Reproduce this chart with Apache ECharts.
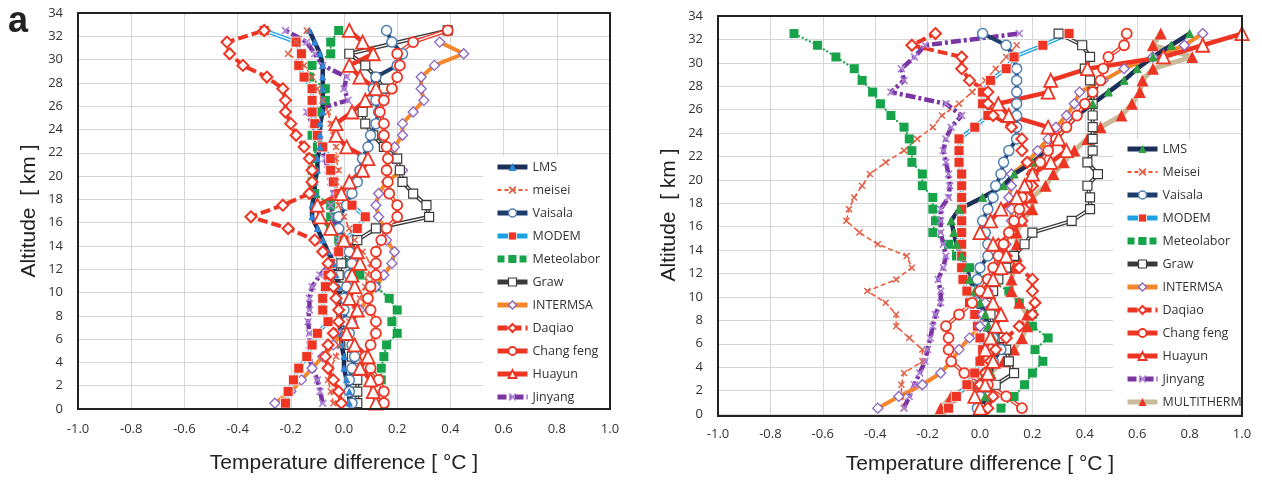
<!DOCTYPE html>
<html><head><meta charset="utf-8">
<script src="https://cdn.jsdelivr.net/npm/echarts@6/dist/echarts.min.js"></script>
<style>html,body{margin:0;padding:0;background:#fff}#c{width:1262px;height:480px}</style>
</head><body><div id="c"></div>
<script>
const altitudes = [0.5,1.5,2.5,3.5,4.5,5.5,6.5,7.5,8.5,9.5,10.5,11.5,12.5,13.5,14.5,15.5,16.5,17.5,18.5,19.5,20.5,21.5,22.5,23.5,24.5,25.5,26.5,27.5,28.5,29.5,30.5,31.5,32.5];
const xTicks = [-1.0,-0.8,-0.6,-0.4,-0.2,0.0,0.2,0.4,0.6,0.8,1.0];
const yTicks = [0,2,4,6,8,10,12,14,16,18,20,22,24,26,28,30,32,34];

// Left panel (a)
const L_LMS = [0.02,0.02,0.01,0.0,0.0,-0.01,-0.01,-0.02,-0.02,-0.02,-0.02,-0.03,-0.04,-0.06,-0.08,-0.10,-0.12,-0.12,-0.11,-0.11,-0.10,-0.10,-0.09,-0.09,-0.09,-0.08,-0.08,-0.08,-0.08,-0.08,-0.09,-0.11,-0.13];
const L_meisei = [-0.04,-0.05,-0.06,-0.05,-0.03,-0.02,0.0,0.02,0.04,0.06,0.08,0.09,0.10,0.07,0.04,0.02,0.0,-0.02,-0.03,-0.03,-0.02,-0.03,-0.03,-0.04,-0.05,-0.06,-0.08,-0.10,-0.12,-0.15,-0.21,-0.18,-0.14];
const L_Vaisala = [0.03,0.02,0.02,0.03,0.04,0.03,0.02,0.01,0.0,0.0,0.01,0.02,0.03,0.02,0.0,-0.02,-0.02,0.01,0.03,0.05,0.06,0.07,0.09,0.10,0.12,0.13,0.12,0.11,0.12,0.20,0.22,0.18,0.16];
const L_MODEM = [-0.22,-0.21,-0.19,-0.17,-0.14,-0.12,-0.10,-0.06,-0.08,-0.08,-0.07,-0.06,-0.05,-0.02,0.0,0.05,0.08,0.03,-0.02,-0.04,-0.05,-0.05,-0.08,-0.10,-0.11,-0.12,-0.12,-0.12,-0.15,-0.17,-0.16,-0.18,-0.30];
const L_Meteolabor = [0.15,0.15,0.14,0.14,0.15,0.16,0.20,0.18,0.20,0.17,0.12,0.06,0.02,0.0,-0.02,-0.05,-0.05,-0.05,-0.11,-0.12,-0.12,-0.12,-0.10,-0.12,-0.11,-0.10,-0.07,-0.07,-0.13,-0.12,-0.05,-0.05,-0.02];
const L_Graw = [0.05,0.05,0.05,0.04,0.03,0.02,0.01,0.0,-0.01,-0.01,-0.02,-0.02,-0.01,0.01,0.05,0.12,0.32,0.31,0.26,0.22,0.21,0.20,0.15,0.11,0.08,0.07,0.10,0.15,0.12,0.08,0.02,null,0.39];
const L_INTERMSA = [-0.26,-0.20,-0.16,-0.12,-0.08,-0.04,-0.01,0.03,0.06,0.09,0.12,0.15,0.18,0.19,0.16,0.15,0.13,0.12,0.13,0.16,0.22,0.19,0.19,0.22,0.22,0.26,0.30,0.29,0.29,0.34,0.45,0.36,null];
const L_Daqiao = [-0.01,-0.02,-0.04,-0.06,-0.07,-0.06,-0.04,-0.02,-0.02,-0.03,-0.04,-0.05,-0.06,-0.08,-0.11,-0.21,-0.35,-0.23,-0.13,-0.12,-0.12,-0.13,-0.15,-0.18,-0.20,-0.22,-0.22,-0.23,-0.29,-0.38,-0.43,-0.44,-0.30];
const L_Changfeng = [0.15,0.15,0.13,0.10,0.08,0.10,0.12,0.12,0.10,0.09,0.10,0.12,0.12,0.12,0.14,0.16,0.20,0.20,0.17,0.165,0.16,0.165,0.16,0.15,0.15,0.135,0.15,0.18,0.20,0.21,0.20,0.26,0.39];
const L_Huayun = [0.12,0.11,0.10,0.06,0.09,0.04,0.01,0.03,0.05,0.02,0.04,0.03,0.06,0.05,0.0,-0.05,-0.09,-0.10,-0.01,0.02,0.07,0.09,0.01,-0.03,-0.03,0.03,0.08,0.12,0.06,0.02,0.11,0.07,0.02];
const L_Jinyang = [-0.08,-0.09,-0.10,-0.12,-0.13,-0.13,-0.13,-0.135,-0.13,-0.13,-0.12,-0.09,-0.05,-0.03,-0.02,-0.03,-0.04,-0.05,-0.04,-0.05,-0.06,-0.07,-0.09,-0.10,-0.12,-0.14,0.015,0.0,0.01,-0.08,-0.11,-0.14,-0.22];

// Right panel
const R_LMS = [0.0,0.02,0.03,0.04,0.05,0.06,0.05,0.03,0.02,0.0,-0.02,-0.04,-0.05,-0.07,-0.09,-0.10,-0.11,-0.08,0.01,0.09,0.13,0.20,0.26,0.29,0.33,0.37,0.43,0.49,0.55,0.60,0.66,0.73,0.80];
const R_Meisei = [-0.29,-0.30,-0.30,-0.29,-0.22,-0.22,-0.27,-0.32,-0.32,-0.36,-0.43,-0.32,-0.26,-0.28,-0.39,-0.46,-0.51,-0.50,-0.48,-0.45,-0.42,-0.36,-0.29,-0.24,-0.18,-0.145,-0.08,-0.03,0.02,0.06,0.10,0.14,null];
const R_Vaisala = [-0.01,0.0,0.0,0.02,0.05,0.08,0.05,0.02,0.0,-0.01,-0.02,-0.01,0.0,0.03,0.03,0.02,0.01,0.03,0.05,0.06,0.08,0.09,0.11,0.14,0.14,0.14,0.14,0.14,0.14,0.14,0.13,0.10,0.01];
const R_MODEM = [-0.12,-0.09,-0.05,-0.02,0.0,0.01,0.0,-0.01,-0.02,-0.04,-0.05,-0.065,-0.07,-0.07,-0.07,-0.07,-0.07,-0.07,-0.07,-0.07,-0.07,-0.08,-0.08,-0.08,-0.02,0.03,0.01,0.01,0.04,0.10,0.13,0.24,0.34];
const R_Meteolabor = [0.08,0.13,0.17,0.20,0.24,0.21,0.26,0.20,0.20,0.15,0.11,0.03,-0.04,-0.09,-0.12,-0.18,-0.17,-0.18,-0.18,-0.22,-0.22,-0.26,-0.26,-0.27,-0.29,-0.34,-0.38,-0.41,-0.45,-0.48,-0.55,-0.62,-0.71];
const R_Graw = [0.0,0.03,0.06,0.13,0.11,0.10,0.09,0.05,0.04,0.04,0.05,0.07,0.10,0.13,0.17,0.20,0.35,0.42,0.42,0.41,0.45,0.41,0.43,0.43,0.43,0.43,0.43,0.43,0.42,0.40,0.42,0.39,0.30];
const R_INTERMSA = [-0.39,-0.31,-0.22,-0.15,-0.11,-0.08,-0.04,0.0,0.01,0.02,0.03,0.04,0.06,0.08,0.10,0.11,0.12,0.12,0.11,0.12,0.12,0.18,0.22,0.26,0.29,0.33,0.36,0.38,0.47,0.55,0.66,0.78,0.85];
const R_Daqiao = [0.03,0.05,0.0,0.02,0.04,0.06,0.10,0.15,0.20,0.21,0.20,0.20,0.15,0.10,0.07,0.12,0.16,0.17,0.18,0.20,0.20,0.18,0.16,0.16,0.12,0.05,0.03,0.03,-0.04,-0.07,-0.07,-0.26,-0.17];
const R_Changfeng = [0.16,0.10,0.03,-0.06,-0.11,-0.12,-0.12,-0.13,-0.08,-0.03,0.0,0.03,0.05,0.07,0.09,0.11,0.13,0.15,0.16,0.18,0.20,0.23,0.26,0.29,0.33,0.37,0.40,0.43,0.46,0.47,0.49,0.55,0.56];
const R_Huayun = [0.0,-0.02,0.02,0.03,0.05,0.02,0.04,0.06,0.08,0.05,0.03,0.05,0.08,0.10,0.05,0.0,0.04,0.08,0.14,0.17,0.20,0.27,0.33,0.30,0.26,0.11,0.07,0.26,0.27,0.41,0.70,0.85,1.0];
const R_Jinyang = [-0.29,-0.27,-0.25,-0.23,-0.21,-0.20,-0.19,-0.18,-0.17,-0.15,-0.15,-0.16,-0.14,-0.13,-0.14,-0.15,-0.15,-0.15,-0.12,-0.115,-0.12,-0.13,-0.14,-0.13,-0.11,-0.07,-0.13,-0.34,-0.29,-0.30,-0.25,-0.21,0.15];
const R_MULTITHERM = [-0.15,-0.11,-0.03,0.04,0.09,0.13,0.16,0.18,0.18,0.15,0.12,0.12,0.13,0.14,0.14,0.14,0.16,0.20,0.20,0.25,0.28,0.32,0.36,0.41,0.46,0.54,0.58,0.61,0.62,0.66,0.81,0.66,0.69];

const leftNames = ['LMS','meisei','Vaisala','MODEM','Meteolabor','Graw','INTERMSA','Daqiao','Chang feng','Huayun','Jinyang'];
const rightNames = ['LMS','Meisei','Vaisala','MODEM','Meteolabor','Graw','INTERMSA','Daqiao','Chang feng','Huayun','Jinyang','MULTITHERM'];

const RED = '#ee3524', NAVY = '#1c2f5a', LBLUE = '#1ba1e2', GREEN = '#16a34a', ORANGE = '#f5862a', PURPLE = '#7a35a3', LPURP = '#ad82d6', TAN = '#c9bb9a', GREY = '#3a3a3a';
const XSYM = 'path://M0,1.5L1.5,0L5,3.5L8.5,0L10,1.5L6.5,5L10,8.5L8.5,10L5,6.5L1.5,10L0,8.5L3.5,5Z';

function pts(xs){ const out=[]; xs.forEach((x,i)=>{ if(x!==null) out.push([x, altitudes[i]]); }); return out; }
function S(name, xs, g, o){ return Object.assign({type:'line', name:name, xAxisIndex:g, yAxisIndex:g, data:pts(xs), animation:false, clip:true, z:2}, o); }
function inner(name, xs, g){ return S(name+'#in', xs, g, {symbol:'none', silent:true, lineStyle:{color:'#fff', width:1.3}}); }

function styles(g){
  return {
    'LMS': {symbol:'triangle', symbolSize: g?8:6, itemStyle:{color: g? '#2ea043':'#2e86d6', borderColor: g?'#2ea043':'#2e86d6'}, lineStyle:{color:NAVY, width:4.5}},
    'meisei': {symbol:XSYM, symbolSize:7, itemStyle:{color:'#e0604a'}, lineStyle:{color:'#f2552f', width:1.5, type:[5,3]}},
    'Vaisala': {symbol:'circle', symbolSize:10, itemStyle:{color:'#fff', borderColor:'#4f7fb3', borderWidth:1.5}, lineStyle:{color:'#1f3d6b', width:4}},
    'MODEM': {symbol:'rect', symbolSize:10, itemStyle:{color:RED, borderColor:'#fff', borderWidth:0.8}, lineStyle:{color:LBLUE, width:4}},
    'Meteolabor': {symbol:'rect', symbolSize:9, itemStyle:{color:GREEN}, lineStyle:{color:GREEN, width:2, type:'dotted'}},
    'Graw': {symbol:'rect', symbolSize:9, itemStyle:{color:'#fff', borderColor:GREY, borderWidth:1.2}, lineStyle:{color:GREY, width:4}},
    'INTERMSA': {symbol:'diamond', symbolSize:10, itemStyle:{color:'#fff', borderColor:'#8a64c4', borderWidth:1.3}, lineStyle:{color:ORANGE, width:4}},
    'Daqiao': {symbol:'diamond', symbolSize:11, itemStyle:{color:'#fff', borderColor:RED, borderWidth:2}, lineStyle:{color:RED, width:4, type:[10,4]}},
    'Chang feng': {symbol:'circle', symbolSize:10, itemStyle:{color:'#fff', borderColor:RED, borderWidth:1.8}, lineStyle:{color:RED, width:4}},
    'Huayun': {symbol:'triangle', symbolSize:13, itemStyle:{color:'#fff', borderColor:RED, borderWidth:1.8}, lineStyle:{color:RED, width:4.5}},
    'Jinyang': {symbol:XSYM, symbolSize:8, itemStyle:{color:LPURP}, lineStyle:{color:PURPLE, width:4.5, type:[10,3,3,3]}},
    'MULTITHERM': {symbol:'triangle', symbolSize:12, itemStyle:{color:RED}, lineStyle:{color:TAN, width:5}}
  };
}
const sL = styles(0), sR = styles(1);

const series = [
  S('Meteolabor', L_Meteolabor, 0, sL['Meteolabor']),
  S('Jinyang', L_Jinyang, 0, sL['Jinyang']),
  S('INTERMSA', L_INTERMSA, 0, sL['INTERMSA']),
  S('Graw', L_Graw, 0, sL['Graw']), inner('Graw', L_Graw, 0),
  S('Vaisala', L_Vaisala, 0, sL['Vaisala']),
  S('MODEM', L_MODEM, 0, sL['MODEM']), inner('MODEM', L_MODEM, 0),
  S('LMS', L_LMS, 0, sL['LMS']),
  S('meisei', L_meisei, 0, sL['meisei']),
  S('Daqiao', L_Daqiao, 0, sL['Daqiao']),
  S('Chang feng', L_Changfeng, 0, sL['Chang feng']), inner('Chang feng', L_Changfeng, 0),
  S('Huayun', L_Huayun, 0, sL['Huayun']),

  S('R:Meteolabor', R_Meteolabor, 1, sR['Meteolabor']),
  S('R:Meisei', R_Meisei, 1, sR['meisei']),
  S('R:Jinyang', R_Jinyang, 1, sR['Jinyang']),
  S('R:MULTITHERM', R_MULTITHERM, 1, sR['MULTITHERM']),
  S('R:Graw', R_Graw, 1, sR['Graw']), inner('R:Graw', R_Graw, 1),
  S('R:Vaisala', R_Vaisala, 1, sR['Vaisala']),
  S('R:MODEM', R_MODEM, 1, sR['MODEM']), inner('R:MODEM', R_MODEM, 1),
  S('R:INTERMSA', R_INTERMSA, 1, sR['INTERMSA']),
  S('R:LMS', R_LMS, 1, sR['LMS']),
  S('R:Daqiao', R_Daqiao, 1, sR['Daqiao']),
  S('R:Chang feng', R_Changfeng, 1, sR['Chang feng']), inner('R:Chang feng', R_Changfeng, 1),
  S('R:Huayun', R_Huayun, 1, sR['Huayun'])
];

function legItem(name, st, prefix){
  const ls = Object.assign({}, st.lineStyle, {width:5});
  if (name==='Meteolabor') { ls.type=[7,4]; ls.width=7; }
  if (name==='meisei' || name==='Meisei') { ls.width=1.8; ls.type=[4,3]; }
  if (name==='Jinyang') { ls.type=[9,3,2,3]; }
  return {name: prefix+name, lineStyle: ls, itemStyle: Object.assign({}, st.itemStyle)};
}

const tickFont = {color:'#333', fontSize:13, fontFamily:'Open Sans'};
const titleFont = {color:'#222', fontSize:21, fontFamily:'Liberation Sans'};
function xAx(g){ return {type:'value', gridIndex:g, min:-1, max:1, interval:0.2,
  axisLabel:Object.assign({margin:14, formatter:v=>{ const t = xTicks.find(k=>Math.abs(k-v)<1e-6); return (t===undefined?v:t).toFixed(1).replace('-0.0','0.0'); }}, tickFont),
  axisTick:{show:false}, axisLine:{show:false, onZero:false},
  splitLine:{lineStyle:{color:'#d6d6d6', width:1}},
  name:'Temperature difference [ °C ]', nameLocation:'middle', nameGap: g?40:44, nameTextStyle:titleFont}; }
function yAx(g){ return {type:'value', gridIndex:g, min:yTicks[0], max:yTicks[yTicks.length-1], interval:2,
  axisLabel:Object.assign({margin:15}, tickFont),
  axisTick:{show:false}, axisLine:{show:false, onZero:false},
  splitLine:{lineStyle:{color:'#d6d6d6', width:1}},
  name:'Altitude  [ km ]', nameLocation:'middle', nameGap:38, nameTextStyle:titleFont}; }

const legBase = {orient:'vertical', selectedMode:false, backgroundColor:'#fff', itemWidth:30, itemHeight:10, itemGap:9,
  textStyle:{color:'#333', fontSize:12.5, lineHeight:14, fontFamily:'Open Sans'}, formatter:n=>n.replace(/^R:/,'')};

const option = {
  animation:false,
  grid:[
    {left:78, top:13, width:532, height:396},
    {left:718, top:16, width:524, height:400}
  ],
  xAxis:[xAx(0), xAx(1)],
  yAxis:[yAx(0), yAx(1)],
  legend:[
    Object.assign({}, legBase, {left:483, top:156, padding:[4,14,6,11], data:leftNames.map(n=>legItem(n, sL[n], ''))}),
    Object.assign({}, legBase, {left:1113, top:139, padding:[3,2,4,11], data:rightNames.map(n=>legItem(n, sR[n==='Meisei'?'meisei':n], 'R:'))})
  ],
  graphic:[
    {type:'text', left:8, top:4, style:{text:'a', font:'bold 36px Liberation Sans', fill:'#222'}},
    {type:'rect', z:100, silent:true, shape:{x:78, y:13, width:532, height:396}, style:{fill:'none', stroke:'#222', lineWidth:2}},
    {type:'rect', z:100, silent:true, shape:{x:718, y:16, width:524, height:400}, style:{fill:'none', stroke:'#222', lineWidth:2}}
  ],
  series:series
};
echarts.init(document.getElementById('c'), null, {renderer:'canvas'}).setOption(option);
</script></body></html>
